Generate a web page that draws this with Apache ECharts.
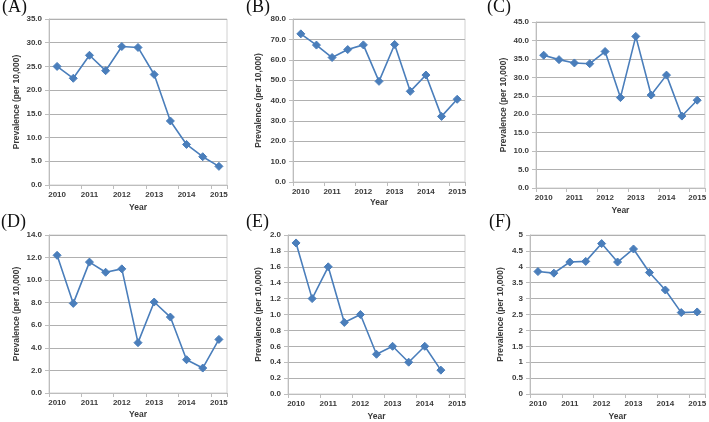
<!DOCTYPE html>
<html>
<head>
<meta charset="utf-8">
<script src="https://cdn.jsdelivr.net/npm/echarts@6/dist/echarts.min.js"></script>
<style>
  html, body { margin: 0; padding: 0; background: #fff; }
  #chart { width: 709px; height: 422px; }
</style>
</head>
<body>
<div id="chart"></div>
<script>
// Half-year categories (labels shown only on whole years)
const categories = ['2010', '2010 H2', '2011', '2011 H2', '2012', '2012 H2', '2013', '2013 H2', '2014', '2014 H2', '2015'];

const panelLabels = ['(A)', '(B)', '(C)', '(D)', '(E)', '(F)'];

const valuesA = [25.0, 22.5, 27.35, 24.1, 29.2, 29.0, 23.3, 13.5, 8.55, 5.96, 3.93];
const valuesB = [72.7, 67.2, 61.1, 65.0, 67.3, 49.4, 67.5, 44.5, 52.5, 32.2, 40.6];
const valuesC = [36.0, 34.8, 33.9, 33.7, 37.0, 24.5, 41.1, 25.2, 30.6, 19.5, 23.8];
const valuesD = [12.2, 7.94, 11.6, 10.7, 11.0, 4.46, 8.06, 6.73, 2.95, 2.21, 4.75];
const valuesE = [1.9, 1.2, 1.6, 0.9, 1.0, 0.5, 0.6, 0.4, 0.6, 0.3];
const valuesF = [3.85, 3.80, 4.15, 4.17, 4.73, 4.15, 4.56, 3.82, 3.27, 2.56, 2.58];

const yMax = [35, 80, 45, 14, 2, 5];
const yInterval = [5, 10, 5, 2, 0.2, 0.5];
const yDecimals = [1, 1, 1, 1, 1, null];

const xTitle = 'Year';
const yTitle = 'Prevalence (per 10,000)';

const allValues = [valuesA, valuesB, valuesC, valuesD, valuesE, valuesF];

// layout (pixels)
const grids = [
  { left: 49, top: 19, width: 178, height: 166 },
  { left: 293, top: 19, width: 172, height: 163 },
  { left: 536, top: 22, width: 171, height: 166 },
  { left: 49, top: 235, width: 178, height: 158 },
  { left: 288, top: 235, width: 177, height: 161 },
  { left: 530, top: 235, width: 177, height: 160 }
];
const yNameGap = [28, 30, 28, 28, 25, 25];
const xNameGap = [18, 16, 18, 17, 18, 18];
const labelPos = [
  { left: 2, top: -2 }, { left: 246, top: -2 }, { left: 487, top: -2 },
  { left: 1, top: 213 }, { left: 246, top: 213 }, { left: 489, top: 213 }
];

const lineColor = '#4a7ebb';
const gridColor = '#b0b0b0';
const axisColor = '#bdbdbd';
const textColor = '#3a3a3a';
const tickFont = { fontFamily: 'Liberation Sans', fontSize: 8, fontWeight: 'bold', color: textColor };

const option = {
  animation: false,
  backgroundColor: '#ffffff',
  title: panelLabels.map((t, i) => ({
    text: t,
    left: labelPos[i].left,
    top: labelPos[i].top,
    padding: 0,
    textStyle: { fontFamily: 'Liberation Serif', fontSize: 18, fontWeight: 'normal', color: '#111' }
  })),
  grid: grids.map(g => Object.assign({ show: true, borderColor: '#d0d0d0', borderWidth: 1, backgroundColor: 'transparent' }, g)),
  xAxis: grids.map((g, i) => ({
    type: 'category',
    gridIndex: i,
    data: categories,
    boundaryGap: true,
    name: xTitle,
    nameLocation: 'middle',
    nameGap: xNameGap[i],
    nameTextStyle: { fontFamily: 'Liberation Sans', fontSize: 8.5, fontWeight: 'bold', color: textColor },
    axisLine: { lineStyle: { color: axisColor, width: 1 } },
    axisTick: { show: true, interval: 1, length: 4, lineStyle: { color: axisColor } },
    axisLabel: Object.assign({ interval: 1, margin: 6 }, tickFont),
    splitLine: { show: false }
  })),
  yAxis: grids.map((g, i) => ({
    type: 'value',
    gridIndex: i,
    min: 0,
    max: yMax[i],
    interval: yInterval[i],
    name: yTitle,
    nameLocation: 'middle',
    nameRotate: 90,
    nameGap: yNameGap[i],
    nameTextStyle: { fontFamily: 'Liberation Sans', fontSize: 8.5, fontWeight: 'bold', color: textColor },
    axisLine: { show: true, lineStyle: { color: axisColor, width: 1 } },
    axisTick: { show: true, length: 4, lineStyle: { color: axisColor } },
    axisLabel: Object.assign({
      margin: 7,
      formatter: v => yDecimals[i] == null ? String(+v.toFixed(2)) : v.toFixed(yDecimals[i])
    }, tickFont),
    splitLine: { show: true, lineStyle: { color: gridColor, width: 1 } }
  })),
  series: allValues.map((vals, i) => ({
    type: 'line',
    xAxisIndex: i,
    yAxisIndex: i,
    data: vals,
    symbol: 'diamond',
    symbolSize: 8,
    showAllSymbol: true,
    lineStyle: { color: lineColor, width: 1.6 },
    itemStyle: { color: lineColor, borderColor: lineColor },
    emphasis: { disabled: true }
  }))
};

const chart = echarts.init(document.getElementById('chart'), null, { renderer: 'canvas' });
chart.setOption(option);
</script>
</body>
</html>
